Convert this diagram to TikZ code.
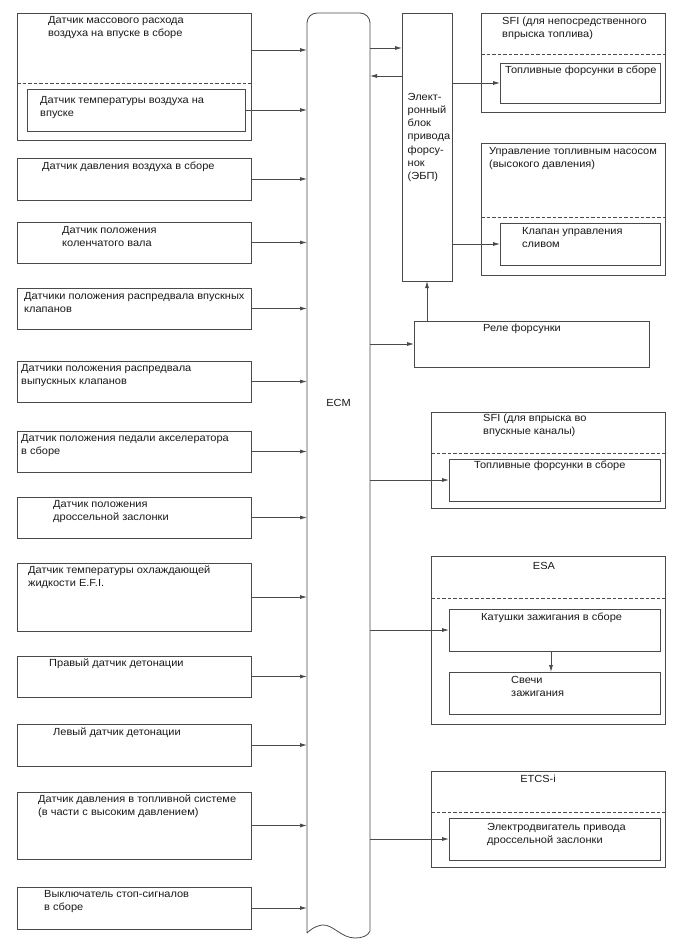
\documentclass[tikz,border=0pt]{standalone}
\usepackage{fontspec}
\setmainfont{Liberation Sans}
\newfontfamily\reffont[FakeStretch=1.07]{Liberation Sans}
\usetikzlibrary{arrows.meta}
\definecolor{lc}{HTML}{4A4A4A}
\definecolor{tc}{HTML}{1A1A1A}
\begin{document}
\begin{tikzpicture}[x=1pt,y=-1pt,
  ln/.style={draw=lc, line width=0.8pt},
  box/.style={ln, anchor=north west, inner sep=0pt, outer sep=0pt},
  hid/.style={anchor=north west, inner sep=0pt, outer sep=0pt},
  dsh/.style={draw=lc, line width=0.8pt, dash pattern=on 3.5pt off 2pt},
  arr/.style={draw=lc, line width=0.8pt, -{Latex[length=7pt,width=4pt]}},
  txt/.style={anchor=north west, inner sep=0pt, align=left, text=tc, font=\reffont\fontsize{10.3}{13}\selectfont},
  ctxt/.style={anchor=north, inner sep=0pt, align=center, text=tc, font=\reffont\fontsize{10.3}{13}\selectfont}]
\useasboundingbox (0,0) rectangle (688,949);
\fill[white] (0,0) rectangle (688,949);

% ---------- ECM ----------
\node[hid, minimum width=63pt, minimum height=920pt] (ecm) at (307,13) {};
\draw[ln] (307,933) [rounded corners=10pt] -- (307,13) -- (370,13) [sharp corners] -- (370,931)
  .. controls (368,936) and (362,938) .. (355,938)
  .. controls (341,938) and (333,924) .. (322,925)
  .. controls (315,926) and (310,930) .. (307,933);
\node[ctxt] (ecmt) at (338.5,399) {ECM};

% ---------- Left sensors ----------
\node[box, minimum width=234pt, minimum height=127pt] (s1) at (17,13) {};
\node[hid, minimum width=234pt, minimum height=70pt] (s1a) at (17,13) {};
\draw[dsh] (s1.west |- 0,83) -- (s1.east |- 0,83);
\node[box, minimum width=218pt, minimum height=42pt] (s1b) at (27,89) {};
\node[txt] (t1) at (48,16) {Датчик массового расхода\\воздуха на впуске в сборе};
\node[txt] (t1b) at (40,96) {Датчик температуры воздуха на\\впуске};

\node[box, minimum width=234pt, minimum height=42pt] (s2) at (17,158) {};
\node[txt] (t2) at (42,162) {Датчик давления воздуха в сборе};
\node[box, minimum width=234pt, minimum height=41pt] (s3) at (17,222) {};
\node[txt] (t3) at (62,226) {Датчик положения\\коленчатого вала};
\node[box, minimum width=234pt, minimum height=41pt] (s4) at (17,288) {};
\node[txt] (t4) at (24,292) {Датчики положения распредвала впускных\\клапанов};
\node[box, minimum width=234pt, minimum height=41pt] (s5) at (17,361) {};
\node[txt] (t5) at (21,364) {Датчики положения распредвала\\выпускных клапанов};
\node[box, minimum width=234pt, minimum height=41pt] (s6) at (17,431) {};
\node[txt] (t6) at (21,434) {Датчик положения педали акселератора\\в сборе};
\node[box, minimum width=234pt, minimum height=41pt] (s7) at (17,497) {};
\node[txt] (t7) at (53,500) {Датчик положения\\дроссельной заслонки};
\node[box, minimum width=234pt, minimum height=68pt] (s8) at (17,563) {};
\node[txt] (t8) at (28,566) {Датчик температуры охлаждающей\\жидкости E.F.I.};
\node[box, minimum width=234pt, minimum height=41pt] (s9) at (17,656) {};
\node[txt] (t9) at (49,659) {Правый датчик детонации};
\node[box, minimum width=234pt, minimum height=42pt] (s10) at (17,724) {};
\node[txt] (t10) at (53,728) {Левый датчик детонации};
\node[box, minimum width=234pt, minimum height=67pt] (s11) at (17,792) {};
\node[txt] (t11) at (38,795) {Датчик давления в топливной системе\\(в части с высоким давлением)};
\node[box, minimum width=234pt, minimum height=42pt] (s12) at (17,887) {};
\node[txt] (t12) at (44,890) {Выключатель стоп-сигналов\\в сборе};

\draw[arr] (s1.east |- 0,50) -- (ecm.west |- 0,50);
\draw[arr] (s1b.east) -- (s1b.east -| ecm.west);
\foreach \s in {s2,s3,s4,s5,s6,s7,s8,s9,s10,s11,s12}
  \draw[arr] (\s.east) -- (\s.east -| ecm.west);

% ---------- EBP ----------
\node[box, minimum width=50pt, minimum height=268pt] (ebp) at (402,13) {};
\node[txt, font=\reffont\fontsize{10.3}{13.2}\selectfont] (tebp) at (407.5,93) {Элект-\\ронный\\блок\\привода\\форсу-\\нок\\(ЭБП)};
\draw[arr] (ecm.east |- 0,48) -- (ebp.west |- 0,48);
\draw[arr] (ebp.west |- 0,76) -- (ecm.east |- 0,76);

% SFI direct
\node[box, minimum width=184pt, minimum height=99pt] (sfi1) at (481,13) {};
\draw[dsh] (sfi1.west |- 0,54) -- (sfi1.east |- 0,54);
\node[box, minimum width=160pt, minimum height=40pt] (inj1) at (500,63) {};
\node[txt] (tsfi1) at (502,17) {SFI (для непосредственного\\впрыска топлива)};
\node[txt] (tinj1) at (505,66) {Топливные форсунки в сборе};
\draw[arr] (ebp.east |- inj1.west) -- (inj1.west);

% Pump control
\node[box, minimum width=184pt, minimum height=132pt] (pump) at (481,143) {};
\draw[dsh] (pump.west |- 0,217) -- (pump.east |- 0,217);
\node[box, minimum width=160pt, minimum height=42pt] (valve) at (500,223) {};
\node[txt] (tpump) at (489,147) {Управление топливным насосом\\(высокого давления)};
\node[txt] (tvalve) at (522,227) {Клапан управления\\сливом};
\draw[arr] (ebp.east |- valve.west) -- (valve.west);

% Relay
\node[box, minimum width=235pt, minimum height=46pt] (relay) at (414,321) {};
\node[txt] (trelay) at (483,324) {Реле форсунки};
\draw[arr] (relay.north -| 427,0) -- (ebp.south -| 427,0);
\draw[arr] (ecm.east |- relay.west) -- (relay.west);

% SFI port
\node[box, minimum width=234pt, minimum height=96pt] (sfi2) at (431,412) {};
\draw[dsh] (sfi2.west |- 0,453) -- (sfi2.east |- 0,453);
\node[box, minimum width=211pt, minimum height=42pt] (inj2) at (449,459) {};
\node[txt] (tsfi2) at (483,414) {SFI (для впрыска во\\впускные каналы)};
\node[txt] (tinj2) at (474,461) {Топливные форсунки в сборе};
\draw[arr] (ecm.east |- inj2.west) -- (inj2.west);

% ESA
\node[box, minimum width=234pt, minimum height=168pt] (esa) at (431,556) {};
\draw[dsh] (esa.west |- 0,598) -- (esa.east |- 0,598);
\node[box, minimum width=211pt, minimum height=42pt] (coil) at (449,609) {};
\node[box, minimum width=211pt, minimum height=42pt] (plug) at (449,672) {};
\node[ctxt] (tesa) at (544,562) {ESA};
\node[txt] (tcoil) at (481,613) {Катушки зажигания в сборе};
\node[txt] (tplug) at (511,676) {Свечи\\зажигания};
\draw[arr] (ecm.east |- coil.west) -- (coil.west);
\draw[arr] (coil.south -| 551,0) -- (plug.north -| 551,0);

% ETCS-i
\node[box, minimum width=234pt, minimum height=96pt] (etcs) at (431,771) {};
\draw[dsh] (etcs.west |- 0,812) -- (etcs.east |- 0,812);
\node[box, minimum width=211pt, minimum height=42pt] (motor) at (449,818) {};
\node[ctxt] (tetcs) at (538,775) {ETCS-i};
\node[txt] (tmotor) at (487,823) {Электродвигатель привода\\дроссельной заслонки};
\draw[arr] (ecm.east |- motor.west) -- (motor.west);
\end{tikzpicture}
\end{document}
